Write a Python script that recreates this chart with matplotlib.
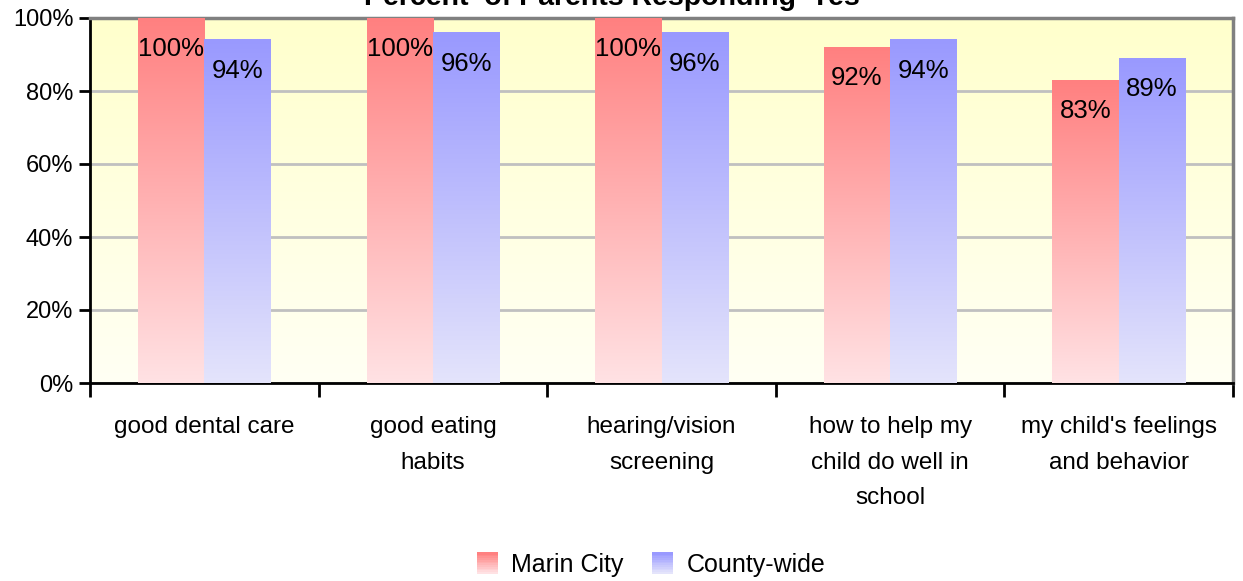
import numpy as np
import matplotlib.pyplot as plt
from matplotlib.patches import Rectangle
from matplotlib.colors import LinearSegmentedColormap
from matplotlib.legend_handler import HandlerBase

plt.rcParams['font.family'] = ['Liberation Sans', 'DejaVu Sans']

categories = ['good dental care', 'good eating\nhabits', 'hearing/vision\nscreening',
              'how to help my\nchild do well in\nschool', "my child's feelings\nand behavior"]
marin_city = [100, 100, 100, 92, 83]
county_wide = [94, 96, 96, 94, 89]
series_names = ['Marin City', 'County-wide']
yticks = [0, 20, 40, 60, 80, 100]

red_top, red_bottom = '#FF8080', '#FFE2E4'
blue_top, blue_bottom = '#9999FF', '#E4E4FB'
bg_top, bg_bottom = '#FFFFCC', '#FFFFF4'


def grad_cmap(top, bottom):
    return LinearSegmentedColormap.from_list('g', [bottom, top])


def gradient_bar(ax, x0, w, h, top, bottom):
    grad = np.linspace(0, 1, 256).reshape(-1, 1)
    ax.imshow(grad, extent=[x0, x0 + w, 0, h], origin='lower', aspect='auto',
              cmap=grad_cmap(top, bottom), zorder=3, interpolation='bilinear')


class GradientHandler(HandlerBase):
    def __init__(self, top, bottom):
        super().__init__()
        self.top, self.bottom = top, bottom

    def create_artists(self, legend, orig_handle, xdescent, ydescent, width, height, fontsize, trans):
        cmap = grad_cmap(self.top, self.bottom)
        n = 12
        s = height * 1.2
        x = -xdescent + (width - s) / 2
        y0 = -ydescent - (s - height) / 2
        arts = []
        for i in range(n):
            r = Rectangle((x, y0 + i * s / n), s, s / n + 0.3, facecolor=cmap(i / (n - 1)),
                          edgecolor='none', transform=trans)
            arts.append(r)
        return arts


fig = plt.figure(figsize=(12.43, 5.81), dpi=100)
ax = fig.add_axes([90 / 1243, 1 - 383 / 581, (1233 - 90) / 1243, (383 - 18) / 581])

x = np.arange(len(categories))
w = 0.29

# plot area background gradient
bg = np.linspace(0, 1, 256).reshape(-1, 1)
ax.imshow(bg, extent=[-0.5, len(categories) - 0.5, 0, 100], origin='lower', aspect='auto',
          cmap=grad_cmap(bg_top, bg_bottom), zorder=0)

for i in range(len(categories)):
    gradient_bar(ax, x[i] - w, w, marin_city[i], red_top, red_bottom)
    gradient_bar(ax, x[i], w, county_wide[i], blue_top, blue_bottom)
    ax.annotate(f'{marin_city[i]}%', (x[i] - w / 2, marin_city[i]), xytext=(0, -31),
                textcoords='offset pixels', ha='center', va='center', fontsize=18.5, zorder=5)
    ax.annotate(f'{county_wide[i]}%', (x[i] + w / 2, county_wide[i]), xytext=(0, -31),
                textcoords='offset pixels', ha='center', va='center', fontsize=18.5, zorder=5)

ax.set_xlim(-0.5, len(categories) - 0.5)
ax.set_ylim(0, 100)
ax.set_yticks(yticks)
ax.set_yticklabels([f'{v}%' for v in yticks], fontsize=17)
ax.yaxis.grid(True, color='#C0C0C0', linewidth=2, zorder=1)
ax.set_axisbelow(True)

ax.set_xticks(np.arange(-0.5, len(categories)), minor=False)
ax.set_xticklabels([])
ax.set_xticks(x, minor=True)
ax.set_xticklabels(categories, minor=True, fontsize=17.5, linespacing=1.78)
ax.tick_params(axis='x', which='major', length=10, width=2, direction='out')
ax.tick_params(axis='x', which='minor', length=0, pad=24)
ax.tick_params(axis='y', length=8, width=2, direction='out', pad=4)

for side in ['left', 'bottom']:
    ax.spines[side].set_linewidth(2)
    ax.spines[side].set_color('black')
for side in ['top', 'right']:
    ax.spines[side].set_linewidth(2.5)
    ax.spines[side].set_color('#808080')

fig.text(0.495, 1 - 5 / 581, "Percent  of Parents Responding 'Yes'", ha='center', va='baseline',
         fontsize=20.5, fontweight='bold')

h1 = Rectangle((0, 0), 1, 1)
h2 = Rectangle((0, 0), 1, 1)
fig.legend([h1, h2], series_names, loc='center', bbox_to_anchor=(0.5235, 1 - 565 / 581),
           ncol=2, frameon=False, fontsize=18, handlelength=0.9, handletextpad=0.5,
           columnspacing=1.1,
           handler_map={h1: GradientHandler(red_top, red_bottom),
                        h2: GradientHandler(blue_top, blue_bottom)})

fig.savefig('out.png', dpi=100)
